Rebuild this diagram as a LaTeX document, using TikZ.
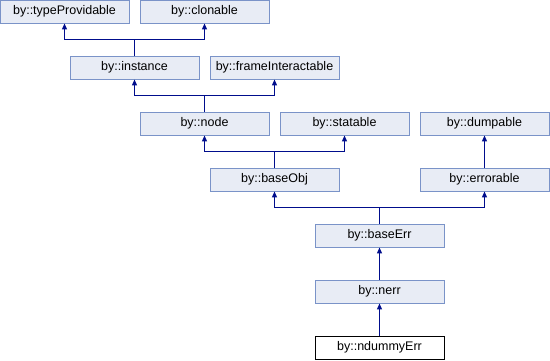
\documentclass[tikz,border=0pt]{standalone}
\usepackage{fontspec}
\setmainfont{Liberation Sans}
\usetikzlibrary{arrows.meta}
\definecolor{clsfill}{HTML}{E8ECF5}
\definecolor{clsdraw}{HTML}{7A93C8}
\definecolor{inhblue}{HTML}{000D8C}

\begin{document}
\begin{tikzpicture}[x=1pt,y=1pt,
    cls/.style={draw=clsdraw,fill=clsfill,line width=0.9pt,minimum width=129pt,
      minimum height=23pt,inner sep=0pt,font=\fontsize{12.5}{14}\selectfont},
    clscur/.style={cls,draw=black,fill=white},
    inh/.style={draw=inhblue,line width=1.1pt,-{Triangle[width=5pt,length=6pt]}}]
    \useasboundingbox (0,0) rectangle (550,-360);
    % row 1
    \node[cls] (typeprov) at (64.5,-11.5){by::typeProvidable};
    \node[cls] (clonable) at (204.5,-11.5){by::clonable};
    % row 2
    \node[cls] (instance) at (134.5,-67.5){by::instance};
    \node[cls] (frameint) at (274.5,-67.5){by::frameInteractable};
    % row 3
    \node[cls] (node) at (204.5,-123.5){by::node};
    \node[cls] (statable) at (344.5,-123.5){by::statable};
    \node[cls] (dumpable) at (484.5,-123.5){by::dumpable};
    % row 4
    \node[cls] (baseobj) at (274.5,-179.5){by::baseObj};
    \node[cls] (errorable) at (484.5,-179.5){by::errorable};
    % rows 5-7
    \node[cls] (baseerr) at (379.5,-235.5){by::baseErr};
    \node[cls] (nerr) at (379.5,-291.5){by::nerr};
    \node[clscur] (ndummy) at (379.5,-347.5){by::ndummyErr};
    % inheritance
    \draw[inh] (instance.north) -- ++(0,16) -| (typeprov.south);
    \draw[inh] (instance.north) -- ++(0,16) -| (clonable.south);
    \draw[inh] (node.north) -- ++(0,16) -| (instance.south);
    \draw[inh] (node.north) -- ++(0,16) -| (frameint.south);
    \draw[inh] (baseobj.north) -- ++(0,16) -| (node.south);
    \draw[inh] (baseobj.north) -- ++(0,16) -| (statable.south);
    \draw[inh] (errorable) -- (dumpable);
    \draw[inh] (baseerr.north) -- ++(0,16) -| (baseobj.south);
    \draw[inh] (baseerr.north) -- ++(0,16) -| (errorable.south);
    \draw[inh] (nerr) -- (baseerr);
    \draw[inh] (ndummy) -- (nerr);
  \end{tikzpicture}
\end{document}
